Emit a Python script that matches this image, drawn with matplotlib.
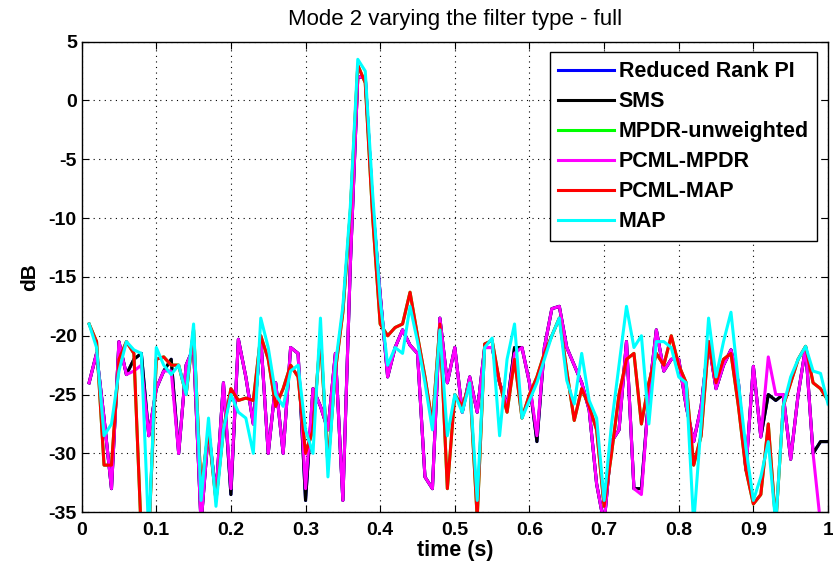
import numpy as np
import matplotlib
matplotlib.use("Agg")
import matplotlib.pyplot as plt

plt.rcParams['font.family'] = ['Liberation Sans', 'DejaVu Sans']
plt.rcParams['axes.unicode_minus'] = False

# time axis (s)
t = np.round(np.arange(1, 101) * 0.01, 2)

# MAP (cyan)
cyan_db = [-19, -21, -28.5, -27.5, -23, -20.5, -21.2, -21.5, -37, -21,
           -22.5, -23.3, -22.5, -25, -19, -34, -27, -34.5, -28, -25,
           -26.5, -27, -30, -18.5, -21, -25, -26, -23, -22.5, -28,
           -30, -18.5, -32, -22.5, -17.5, -9, 3.5, 2.5, -8, -17,
           -22.5, -21, -21.5, -17.5, -20.5, -24, -28, -19.5, -28.5, -25,
           -26.5, -24, -34, -21, -20.2, -28.5, -22, -19, -27, -25.5,
           -24, -22, -20, -18.5, -23.8, -25.8, -21.5, -25.5, -27, -34,
           -27.5, -22.5, -17.5, -21, -20, -27.5, -20.5, -20.5, -21, -23.5,
           -24, -36, -27.5, -18.5, -23.5, -20.5, -18, -24, -29.5, -34,
           -32, -29, -36, -26, -23.5, -22, -20.9, -23, -23.2, -25.8]

# PCML-MPDR (magenta)
magenta_db = [-24, -21.5, -27, -33, -20.5, -23.3, -23, -22.5, -28.5, -24.5,
              -23, -23, -30, -22.5, -21, -36, -28, -33.5, -24, -33,
              -20.3, -23.5, -27.5, -20.2, -30, -24, -30, -21, -21.5, -33,
              -24.5, -26, -28, -21.5, -34, -14, 2, 2, -9, -16.5,
              -23.5, -21, -19.5, -20.8, -21.5, -32, -33, -18.5, -24, -21,
              -26.5, -23.5, -26.5, -21, -21, -24, -26, -21.5, -21, -24,
              -28.5, -21, -17.7, -17.5, -21, -22.5, -24, -26.3, -32.6, -36,
              -29, -28, -20.5, -33, -33.5, -25, -19.5, -23, -22, -22,
              -26, -29, -26, -20.5, -24.5, -22.5, -21.2, -24, -31.4, -22.6,
              -28.6, -21.8, -25, -25, -30.5, -25, -21, -30, -36, -36]

# SMS (black), mostly under the magenta line
black_db = [-24, -21.5, -27, -33, -20.5, -23.3, -22, -21.5, -28.5, -24.5,
            -23, -22, -30, -22.5, -21, -36, -28, -33.5, -24, -33.5,
            -20.3, -23.5, -27.5, -20.2, -30, -24, -30, -21, -21.5, -34,
            -24.5, -26, -28, -21.5, -34, -14, 2, 2, -9, -16.5,
            -23.5, -21, -19.5, -20.8, -21.5, -32, -33, -18.5, -24, -21,
            -26.5, -23.5, -26.5, -21, -21, -24, -26, -21, -21, -24,
            -29, -21, -17.7, -17.5, -21, -22.5, -24, -26.3, -32.6, -36,
            -29, -28, -20.5, -33, -33, -25, -19.5, -23, -22, -22,
            -26, -29, -26, -20.5, -24.5, -22.5, -21.2, -24, -31.4, -22.6,
            -28.6, -25, -25.5, -25, -30.5, -25, -21, -30, -29, -29]

# PCML-MAP (red)
red_db = [-19, -20.5, -31, -31, -22, -20.5, -21.5, -37, -37, -22,
          -21.8, -22.5, -22.5, -25, -19.5, -33, -28, -34, -28, -24.5,
          -25.5, -25.3, -25.5, -20, -22, -26, -24.5, -22.5, -23.5, -30,
          -28, -20, -31, -23, -18, -9.5, 3, 1.5, -10, -19,
          -20, -19.3, -19, -16.3, -20, -23.5, -27.5, -19, -33, -25,
          -26, -24, -35.5, -20.7, -20.4, -24, -26.5, -22, -27, -25,
          -23.5, -21.5, -20, -18.5, -23, -27.2, -24.5, -26, -28, -34.5,
          -30, -25, -22, -21.5, -27.5, -24, -21.5, -22.5, -20, -22.5,
          -24, -31, -28.5, -20.5, -24, -22, -21.5, -26, -31.4, -34.3,
          -33.5, -27.5, -36, -26, -24, -22, -20.9, -24, -24.5, -25.5]

# hidden series
blue_db = black_db    # Reduced Rank PI
green_db = red_db     # MPDR-unweighted

series = [
    ("Reduced Rank PI", blue_db, "#0000ff"),
    ("SMS", black_db, "#000000"),
    ("MPDR-unweighted", green_db, "#00ff00"),
    ("PCML-MPDR", magenta_db, "#ff00ff"),
    ("PCML-MAP", red_db, "#ff0000"),
    ("MAP", cyan_db, "#00ffff"),
]

fig = plt.figure(figsize=(8.33, 5.71), dpi=100)
ax = fig.add_axes([0.098, 0.103, 0.896, 0.824])

for name, vals, col in series:
    ax.plot(t, vals, color=col, lw=2.2, label=name)

ax.set_xlim(0, 1)
ax.set_ylim(-35, 5)
ax.set_xticks(np.arange(0, 1.01, 0.1))
ax.set_xticklabels(["0", "0.1", "0.2", "0.3", "0.4", "0.5", "0.6", "0.7", "0.8", "0.9", "1"])
ax.set_yticks(np.arange(-35, 6, 5))
ax.tick_params(direction="in", top=True, right=True, labelsize=14, length=5)
ax.tick_params(axis="x", pad=7)
for lab in ax.get_xticklabels() + ax.get_yticklabels():
    lab.set_fontweight("bold")
ax.grid(True, color="black", linestyle=(0, (1, 4)), linewidth=0.8)
for s in ax.spines.values():
    s.set_linewidth(1.0)

ax.set_xlabel("time (s)", fontsize=15.5, fontweight="bold", labelpad=1)
ax.set_ylabel("dB", fontsize=15, fontweight="bold", labelpad=7)
ax.set_title("Mode 2 varying the filter type - full", fontsize=16, pad=12)

leg = ax.legend(loc="upper right", prop={"size": 15.5, "weight": "bold"},
                handlelength=2.6, handletextpad=0.2, fancybox=False,
                framealpha=1, edgecolor="black", borderaxespad=0.5,
                labelspacing=0.42, borderpad=0.4)
leg.get_frame().set_linewidth(1.0)

fig.savefig("out.png", dpi=100)
